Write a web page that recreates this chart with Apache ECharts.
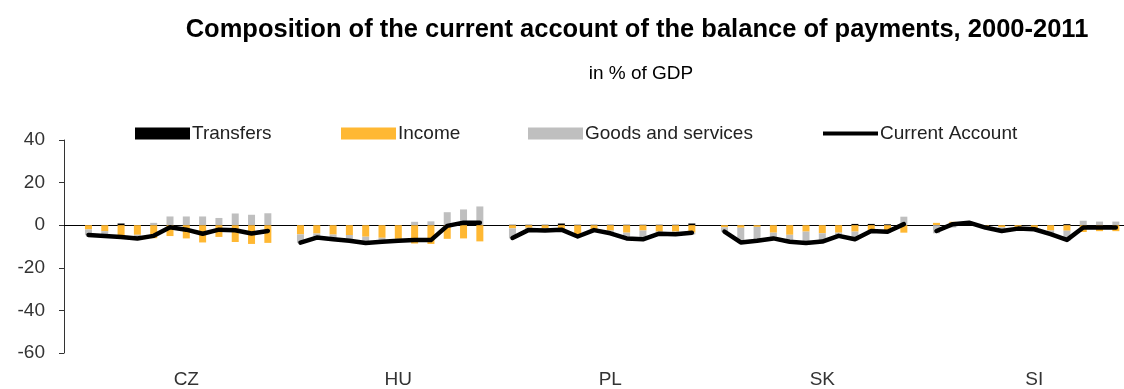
<!DOCTYPE html>
<html><head><meta charset="utf-8">
<script src="https://cdn.jsdelivr.net/npm/echarts@6/dist/echarts.min.js"></script>
<style>html,body{margin:0;padding:0;background:#fff}#c{width:1124px;height:389px}</style>
</head><body><div id="c"></div>
<script>
const countries = ['CZ','HU','PL','SK','SI'];
const years = ['2000','2001','2002','2003','2004','2005','2006','2007','2008','2009','2010','2011'];
const transfers = {
  CZ:[0.1,0.1,0.8,0.1,0.1,0.1,0.1,0.1,0.1,0.1,0.1,0.1],
  HU:[0.1,0.1,0.1,0.1,0.1,0.1,0.1,0.1,0.1,0.1,0.1,0.1],
  PL:[0.2,0.2,0.2,0.8,0.2,0.2,0.2,0.2,0.2,0.2,0.2,0.8],
  SK:[0.1,0.1,0.1,0.1,0.1,0.1,0.1,0.1,0.6,0.6,0.4,0.1],
  SI:[0.1,0.1,0.1,0.1,0.1,0.1,0.1,0.1,0.5,0.1,0.1,0.1]
};
const income = {
  CZ:[-2.0,-2.8,-4.8,-4.5,-6.1,-5.1,-6.2,-8.1,-5.5,-7.9,-8.8,-8.3],
  HU:[-4.3,-3.9,-4.4,-4.6,-5.4,-5.9,-6.4,-8.6,-8.8,-6.4,-6.2,-7.6],
  PL:[-1.5,-1.2,-1.3,-2.0,-4.3,-2.0,-2.5,-3.5,-2.5,-3.0,-3.0,-3.5],
  SK:[-1.0,-1.2,-0.8,-3.5,-4.5,-3.0,-3.8,-3.5,-3.0,-2.5,-3.0,-3.5],
  SI:[1.0,1.5,0.5,-0.6,-1.0,-1.2,-1.5,-2.5,-2.6,-3.2,-2.8,-2.8]
};
const goods = {
  CZ:[-2.7,-2.4,-1.5,-1.8,1.0,4.0,4.0,4.0,3.3,5.4,4.8,5.5],
  HU:[-4.0,-2.0,-2.3,-2.8,-3.1,-2.0,-1.0,1.5,1.7,6.0,7.3,8.7],
  PL:[-4.7,-1.2,-1.4,-0.9,-1.2,-0.5,-1.5,-2.9,-4.3,-1.2,-1.5,-0.8],
  SK:[-2.1,-7.0,-6.6,-2.8,-3.4,-5.5,-4.0,-1.6,-4.2,-0.8,-0.5,3.9],
  SI:[-3.8,-1.1,0.6,-0.6,-1.8,-0.5,-0.5,-1.8,-4.8,2.0,1.6,1.6]
};
const currentAccount = {
  CZ:[-4.6,-5.1,-5.5,-6.2,-5.0,-1.0,-2.1,-4.0,-2.1,-2.4,-3.9,-2.7],
  HU:[-8.2,-5.8,-6.6,-7.3,-8.4,-7.8,-7.3,-7.0,-7.0,-0.3,1.2,1.2],
  PL:[-6.0,-2.2,-2.5,-2.1,-5.3,-2.3,-3.8,-6.2,-6.6,-4.0,-4.3,-3.5],
  SK:[-3.0,-8.1,-7.3,-6.2,-7.8,-8.4,-7.7,-5.0,-6.6,-2.7,-3.1,0.5],
  SI:[-2.7,0.5,1.2,-1.1,-2.7,-1.6,-1.9,-4.2,-6.9,-1.1,-1.1,-1.1]
};
const yTicks = [-60,-40,-20,0,20,40];

// build category list: a blank slot before each country's 12 years
const cats = [], tr = [], inc = [], gs = [], ca = [], labelIdx = {};
countries.forEach(c => {
  cats.push(c + '_gap'); tr.push(null); inc.push(null); gs.push(null); ca.push(null);
  years.forEach((y, i) => {
    cats.push(c + '_' + y);
    tr.push(transfers[c][i]); inc.push(income[c][i]); gs.push(goods[c][i]); ca.push(currentAccount[c][i]);
  });
  labelIdx[cats.length - 12 + 6] = c;
});

const font = 'Liberation Sans, Arial, sans-serif';
const chart = echarts.init(document.getElementById('c'), null, {renderer: 'canvas'});
const legendBase = {top: 119, itemHeight: 12, itemWidth: 55, itemGap: 0,
  textStyle: {fontFamily: font, fontSize: 19, color: '#222', padding: [0,0,0,-3]}, selectedMode: false};
chart.setOption({
  animation: false,
  title: [
    {text: 'Composition of the current account of the balance of payments, 2000-2011', left: 632, top: 12, textAlign: 'center',
     textStyle: {fontFamily: font, fontSize: 25.5, fontWeight: 'bold', color: '#000'}},
    {text: 'in % of GDP', left: 636, top: 59, textAlign: 'center',
     textStyle: {fontFamily: font, fontSize: 19, fontWeight: 'normal', color: '#000'}}
  ],
  legend: [
    Object.assign({}, legendBase, {left: 130, data: [{name: 'Transfers', icon: 'rect'}]}),
    Object.assign({}, legendBase, {left: 336, data: [{name: 'Income', icon: 'rect'}]}),
    Object.assign({}, legendBase, {left: 523, data: [{name: 'Goods and services', icon: 'rect'}]}),
    Object.assign({}, legendBase, {left: 818, itemHeight: 4, data: [{name: 'Current Account', icon: 'rect'}]})
  ],
  grid: {left: 64, top: 140, width: 1065, height: 213, containLabel: false},
  xAxis: [
    {type: 'category', data: cats, position: 'bottom',
     axisLine: {onZero: true, lineStyle: {color: '#000', width: 1}},
     axisTick: {show: false}, axisLabel: {show: false}},
    {type: 'category', data: cats, position: 'bottom',
     axisLine: {show: false, onZero: false}, axisTick: {show: false},
     axisLabel: {interval: (i) => labelIdx[i] !== undefined, formatter: (v, i) => labelIdx[i] || '',
       fontFamily: font, fontSize: 19, color: '#333', margin: 17}}
  ],
  yAxis: {type: 'value', min: -60, max: 40, interval: 20,
    axisLine: {show: true, lineStyle: {color: '#333'}},
    axisTick: {show: true, inside: false, length: 5, lineStyle: {color: '#333'}},
    splitLine: {show: false},
    axisLabel: {fontFamily: font, fontSize: 19, color: '#333', margin: 19,
      formatter: v => yTicks.includes(v) ? String(v) : ''}},
  series: [
    {name: 'Transfers', type: 'bar', stack: 'ca', data: tr, barWidth: 7, itemStyle: {color: '#000'}},
    {name: 'Income', type: 'bar', stack: 'ca', data: inc, barWidth: 7, itemStyle: {color: '#FFB833'}},
    {name: 'Goods and services', type: 'bar', stack: 'ca', data: gs, barWidth: 7, itemStyle: {color: '#BFBFBF'}},
    {name: 'Current Account', type: 'line', data: ca, showSymbol: false, symbol: 'none', connectNulls: false,
     lineStyle: {color: '#000', width: 4.5, join: 'round', cap: 'round'}, itemStyle: {color: '#000'}, z: 5}
  ]
});
</script></body></html>
